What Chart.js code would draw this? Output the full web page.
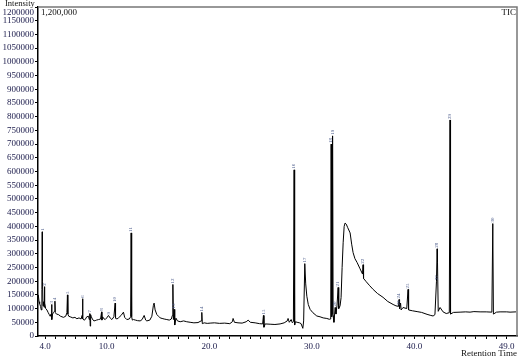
<!DOCTYPE html>
<html>
<head>
<meta charset="utf-8">
<script src="https://cdn.jsdelivr.net/npm/chart.js@4.4.1/dist/chart.umd.min.js"></script>
<style>
  html, body { margin: 0; padding: 0; background: #fff; }
  #wrap { width: 524px; height: 359px; position: relative; }
</style>
</head>
<body>
<div id="wrap"><canvas id="tic"></canvas></div>
<script>
// TIC chromatogram, values
const retentionTime = [
  3.33, 3.40, 3.46, 3.55, 3.62, 3.68, 3.71, 3.74, 3.79, 3.84, 3.89, 3.93, 3.96, 4.05, 4.17, 4.30, 4.40, 4.49,
  4.58, 4.63, 4.66, 4.72, 4.80, 4.90, 4.95, 4.99, 5.10, 5.30, 5.50, 5.78, 6.00, 6.12, 6.17, 6.21, 6.30, 6.44,
  6.70, 6.90, 7.09, 7.30, 7.50, 7.60, 7.64, 7.68, 7.80, 7.90, 8.05, 8.22, 8.30, 8.35, 8.39, 8.43, 8.50, 8.60,
  8.75, 8.87, 9.00, 9.20, 9.40, 9.50, 9.53, 9.60, 9.75, 9.85, 10.00, 10.17, 10.35, 10.50, 10.70, 10.82, 10.86,
  11.00, 11.14, 11.40, 11.63, 11.75, 11.96, 12.20, 12.33, 12.38, 12.43, 12.50, 12.61, 12.80, 13.00, 13.26,
  13.45, 13.65, 13.80, 13.91, 14.20, 14.40, 14.55, 14.62, 14.72, 14.89, 15.05, 15.21, 15.40, 15.60, 15.86,
  16.10, 16.30, 16.40, 16.45, 16.50, 16.57, 16.63, 16.75, 16.90, 17.16, 17.50, 17.80, 18.13, 18.50, 18.90,
  19.20, 19.27, 19.32, 19.50, 19.80, 20.08, 20.50, 21.00, 21.50, 22.00, 22.25, 22.32, 22.45, 22.80, 23.20,
  23.60, 23.79, 24.00, 24.47, 24.90, 25.20, 25.28, 25.33, 25.45, 25.93, 26.40, 26.90, 27.30, 27.60, 27.68,
  27.80, 27.98, 28.10, 28.20, 28.27, 28.32, 28.40, 28.56, 28.80, 28.95, 29.12, 29.20, 29.31, 29.40, 29.51,
  29.65, 29.83, 30.10, 30.48, 30.80, 31.10, 31.46, 31.70, 31.84, 31.88, 31.93, 31.98, 32.02, 32.07, 32.15,
  32.27, 32.35, 32.45, 32.56, 32.62, 32.75, 32.85, 32.95, 33.05, 33.15, 33.24, 33.35, 33.50, 33.73, 33.88,
  34.02, 34.20, 34.41, 34.70, 34.94, 34.99, 35.04, 35.30, 35.60, 35.97, 36.40, 36.94, 37.40, 37.92, 38.20,
  38.45, 38.50, 38.55, 38.65, 38.70, 38.89, 39.25, 39.38, 39.43, 39.80, 40.26, 40.70, 41.23, 41.60, 41.82,
  42.00, 42.15, 42.21, 42.25, 42.32, 42.50, 42.79, 43.10, 43.40, 43.47, 43.52, 43.80, 44.45, 45.00, 45.42,
  45.80, 46.40, 47.00, 47.55, 47.64, 47.70, 48.00, 48.35, 49.00, 49.32, 49.90
];
const intensity = [
  150000, 125000, 118000, 108000, 95000, 170000, 380000, 200000, 110000, 125000, 105000, 180000, 120000, 100000, 95000, 85000, 78000, 72000,
  80000, 115000, 60000, 80000, 85000, 90000, 127000, 85000, 80000, 78000, 72000, 68000, 72000, 85000, 150000, 80000, 72000, 70000,
  66000, 68000, 63000, 66000, 62000, 75000, 136000, 62000, 58000, 60000, 70000, 72000, 60000, 82000, 36000, 78000, 70000, 62000,
  55000, 56000, 58000, 60000, 62000, 88000, 58000, 70000, 62000, 60000, 66000, 75000, 65000, 60000, 70000, 120000, 65000,
  62000, 66000, 75000, 87000, 68000, 60000, 62000, 70000, 376000, 70000, 58000, 60000, 58000, 56000, 55000,
  60000, 75000, 58000, 55000, 58000, 72000, 112000, 120000, 95000, 78000, 72000, 66000, 64000, 62000, 60000,
  58000, 62000, 75000, 188000, 60000, 97000, 40000, 65000, 55000, 52000, 55000, 52000, 50000, 48000, 49000,
  55000, 86000, 45000, 48000, 46000, 47000, 48000, 46000, 47000, 45000, 52000, 64000, 50000, 48000, 47000,
  52000, 58000, 50000, 48000, 45000, 44000, 75000, 32000, 44000, 43000, 42000, 44000, 48000, 55000, 64000,
  50000, 60000, 48000, 52000, 606000, 40000, 52000, 50000, 48000, 45000, 28000, 55000, 264000, 190000, 145000,
  115000, 97000, 85000, 73000, 70000, 66000, 64000, 61000, 62000, 700000, 70000, 80000, 730000, 75000, 50000,
  104000, 80000, 110000, 177000, 100000, 110000, 140000, 250000, 340000, 400000, 412000, 408000, 395000, 376000, 335000,
  304000, 282000, 268000, 245000, 226000, 260000, 210000, 198000, 185000, 170000, 155000, 141000, 126000, 115000, 110000,
  108000, 133000, 100000, 120000, 95000, 104000, 100000, 170000, 95000, 92000, 89000, 86000, 79000, 75000, 73000,
  78000, 200000, 318000, 268000, 90000, 104000, 88000, 82000, 85000, 788000, 80000, 86000, 87000, 88000, 87000,
  89000, 88000, 88000, 87000, 410000, 80000, 87000, 88000, 88000, 87000, 88000
];

// peak numbers printed above the peaks
const peakTimes = [3.71, 3.93, 4.63, 4.95, 6.17, 7.64, 8.35, 9.50, 10.17, 10.82, 12.38, 16.45, 16.57, 19.27, 25.28,
  28.27, 29.31, 31.88, 32.02, 32.27, 32.56, 34.99, 38.45, 38.50, 39.38, 42.15, 42.21, 43.47, 47.64];
const peakHeights = [380000, 180000, 115000, 127000, 150000, 136000, 82000, 88000, 75000, 120000, 376000, 188000, 97000, 86000, 75000,
  606000, 264000, 700000, 730000, 104000, 177000, 260000, 108000, 133000, 170000, 200000, 318000, 788000, 410000];
const peakNames = ['1', '2', '3', '4', '5', '6', '7', '8', '9', '10', '11', '12', '13', '14', '15',
  '16', '17', '18', '19', '20', '21', '22', '23', '24', '25', '27', '28', '29', '30'];

const xLabelAt = [4, 10, 20, 30, 40, 49];
const yTop = 1200000;

const points = retentionTime.map((t, i) => ({ x: t, y: intensity[i] }));

const serif = '"Liberation Serif", "Times New Roman", serif';

const decorations = {
  id: 'decorations',
  afterDraw(chart) {
    const ctx = chart.ctx;
    const a = chart.chartArea;
    const xs = chart.scales.x, ys = chart.scales.y;
    ctx.save();
    // frame top and right
    ctx.strokeStyle = '#777';
    ctx.lineWidth = 1.5;
    ctx.beginPath();
    ctx.moveTo(a.left, a.top);
    ctx.lineTo(a.right, a.top);
    ctx.lineTo(a.right, a.bottom);
    ctx.stroke();

    ctx.fillStyle = '#111';
    ctx.font = '8.5px ' + serif;
    ctx.textBaseline = 'top';
    ctx.textAlign = 'left';
    ctx.fillText('Intensity', 5, -0.5);
    ctx.font = '9px ' + serif;
    ctx.fillText('1,200,000', a.left + 3, a.top + 1);
    ctx.textAlign = 'right';
    ctx.fillText('TIC', a.right - 1, a.top + 1);
    ctx.fillText('Retention Time', a.right, 349);

    // top tick label sits a little lower than its tick, as in the original
    ctx.fillStyle = '#1a1a4a';
    ctx.textBaseline = 'middle';
    ctx.fillText(String(yTop), a.left - 4, a.top + 5.5);

    // peak numbers, tiny and vertical
    ctx.font = '5px ' + serif;
    ctx.fillStyle = '#4a5a8a';
    peakTimes.forEach((t, i) => {
      const px = xs.getPixelForValue(t);
      const py = ys.getPixelForValue(peakHeights[i]);
      ctx.save();
      ctx.translate(px, py - 1);
      ctx.rotate(-Math.PI / 2);
      ctx.textAlign = 'left';
      ctx.textBaseline = 'middle';
      ctx.fillText(peakNames[i], 0, 0);
      ctx.restore();
    });
    ctx.restore();
  }
};

new Chart(document.getElementById('tic'), {
  type: 'line',
  data: {
    datasets: [{
      data: points,
      borderColor: '#000',
      borderWidth: 1,
      pointRadius: 0,
      tension: 0,
      fill: false
    }]
  },
  plugins: [decorations],
  options: {
    responsive: true,
    maintainAspectRatio: false,
    animation: false,
    layout: { padding: { top: 7, right: 7, left: 0, bottom: 0 } },
    plugins: { legend: { display: false }, tooltip: { enabled: false } },
    scales: {
      x: {
        type: 'linear',
        min: 3.3,
        max: 50,
        afterBuildTicks(scale) {
          const ticks = [];
          for (let t = 4; t <= 49; t++) ticks.push({ value: t });
          scale.ticks = ticks;
        },
        afterFit(scale) { scale.height = 23; },
        grid: { drawOnChartArea: false, drawTicks: true, tickLength: 3, color: '#000' },
        border: { color: '#000', width: 1.5 },
        ticks: {
          autoSkip: false,
          maxRotation: 0,
          padding: 2,
          color: '#1a1a4a',
          font: { family: serif, size: 9 },
          callback: (v) => xLabelAt.includes(v) ? v.toFixed(1) : ''
        }
      },
      y: {
        min: 0,
        max: yTop,
        afterFit(scale) { scale.width = 38; },
        grid: { drawOnChartArea: false, drawTicks: true, tickLength: 3, color: '#000' },
        border: { color: '#000', width: 1.5 },
        ticks: {
          stepSize: 50000,
          autoSkip: false,
          padding: 1,
          color: '#1a1a4a',
          font: { family: serif, size: 9 },
          callback: (v) => v === yTop ? '' : String(v)
        }
      }
    }
  }
});
</script>
</body>
</html>
